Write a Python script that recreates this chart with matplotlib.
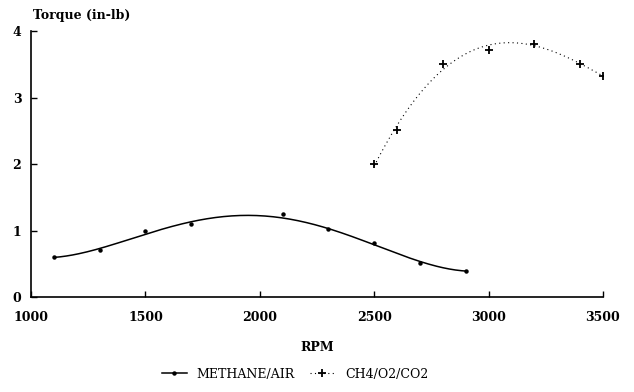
import numpy as np
import matplotlib
matplotlib.use("Agg")
import matplotlib.pyplot as plt

rpm_air = [1100, 1300, 1500, 1700, 2100, 2300, 2500, 2700, 2900]
torque_air = [0.60, 0.71, 0.99, 1.10, 1.25, 1.03, 0.81, 0.51, 0.40]

rpm_co2 = [2500, 2600, 2800, 3000, 3200, 3400, 3500]
torque_co2 = [2.00, 2.51, 3.51, 3.71, 3.81, 3.51, 3.32]

x_ticks = [1000, 1500, 2000, 2500, 3000, 3500]
y_ticks = [0, 1, 2, 3, 4]

plt.rcParams['font.family'] = ['DejaVu Serif']
plt.rcParams['font.size'] = 9

fig = plt.figure(figsize=(6.34, 3.92), dpi=100)
ax = fig.add_axes([0.049, 0.242, 0.902, 0.679])

# smoothed least-squares curves (the 2100 air point sits above its curve)
wts = [1, 1, 1, 1, 0.1, 1, 1, 1, 1]
xa = np.linspace(rpm_air[0], rpm_air[-1], 200)
fa = np.polyval(np.polyfit(rpm_air, torque_air, 4, w=wts), xa)
xc = np.linspace(rpm_co2[0], rpm_co2[-1], 200)
fc = np.polyval(np.polyfit(rpm_co2, torque_co2, 4), xc)

ax.plot(xa, fa, color='black', lw=1.1)
ax.plot(rpm_air, torque_air, ls='none', marker='o', ms=2.2, color='black')
ax.plot(xc, fc, color='black', lw=0.8, ls=(0, (1, 3)))
ax.plot(rpm_co2, torque_co2, ls='none', marker='+', ms=6, mew=1.3, color='black')

ax.set_xlim(1000, 3500)
ax.set_ylim(0, 4)
ax.set_xticks(x_ticks)
ax.set_yticks(y_ticks)
ax.tick_params(direction='in', length=4, width=1, labelsize=9)
ax.tick_params(axis='x', pad=10)
ax.tick_params(axis='y', pad=7)
for lab in ax.get_xticklabels() + ax.get_yticklabels():
    lab.set_fontweight('bold')
ax.spines['top'].set_visible(False)
ax.spines['right'].set_visible(False)
ax.spines['left'].set_linewidth(1.2)
ax.spines['bottom'].set_linewidth(1.2)

ax.set_xlabel('RPM', fontweight='bold', labelpad=12)
fig.text(0.052, 0.945, 'Torque (in-lb)', fontweight='bold', fontsize=9,
         ha='left', va='bottom')

h1, = ax.plot([], [], color='black', lw=1.1, marker='o', ms=2.2)
h2, = ax.plot([], [], color='black', lw=0.8, ls=(0, (1, 3)), marker='+', ms=6, mew=1.3)
fig.legend([h1, h2], ['METHANE/AIR', 'CH4/O2/CO2'], loc='lower center',
           bbox_to_anchor=(0.465, 0.0), ncol=2, frameon=False, handlelength=2.0,
           columnspacing=1.2, fontsize=9)

fig.savefig('out.png', dpi=100)
